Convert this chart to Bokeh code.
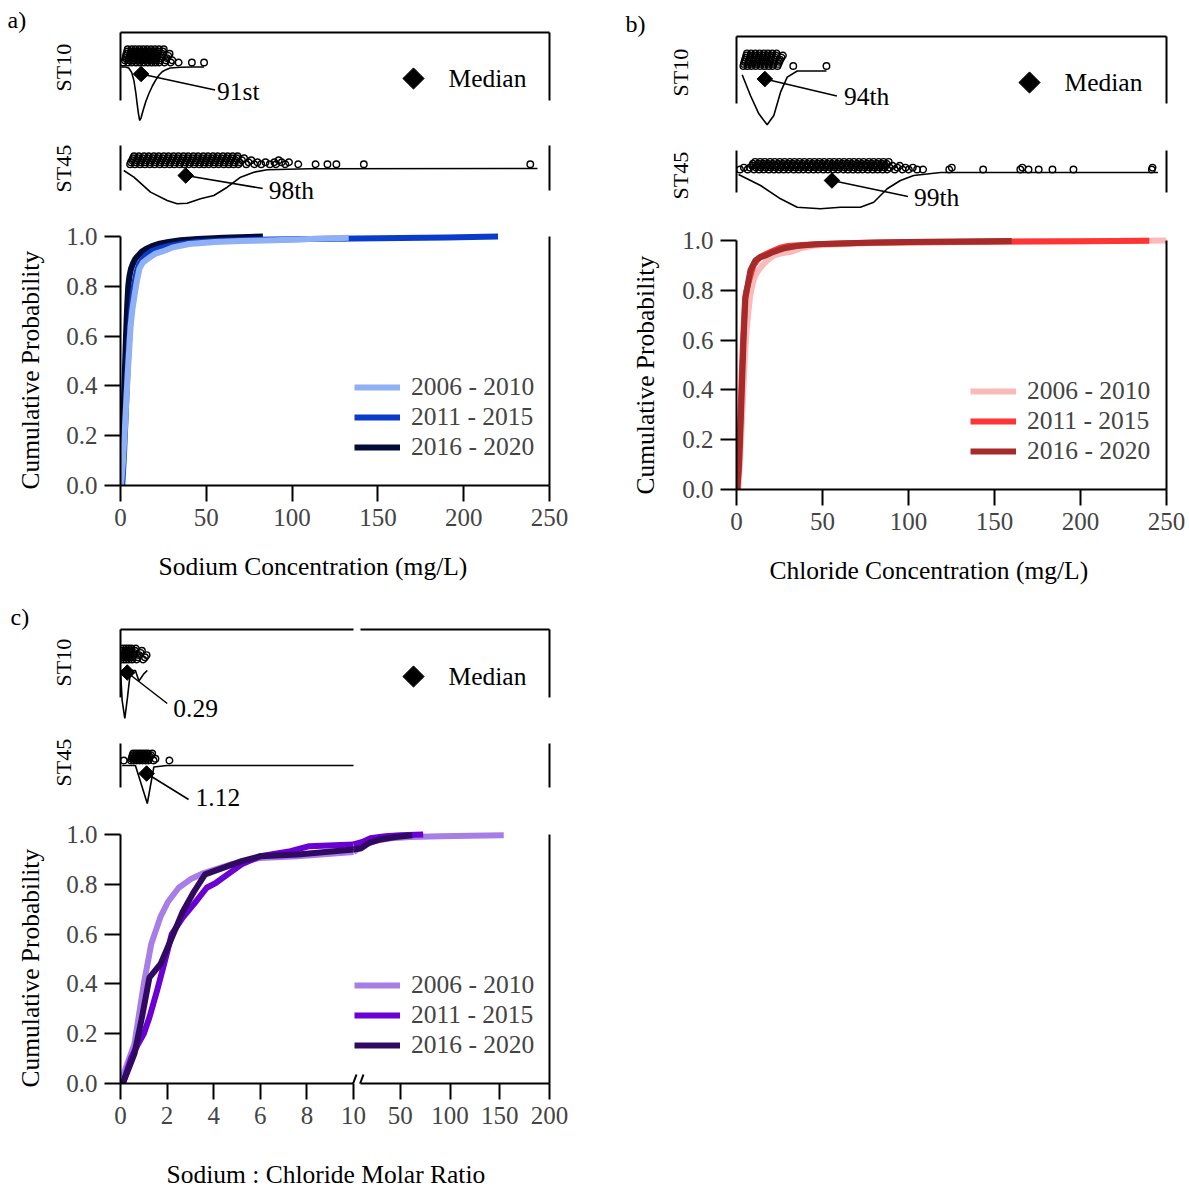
import numpy as np
from bokeh.plotting import figure
from bokeh.models import (Range1d, LinearAxis, FixedTicker, Label, Legend, LegendItem,
                          PrintfTickFormatter, Arrow, Title)
from bokeh.layouts import column, row
from bokeh.embed import file_html
from bokeh.resources import INLINE

FONT = "Liberation Serif"

# ---------------------------------------------------------------- data
periods = ["2006 - 2010", "2011 - 2015", "2016 - 2020"]

conc_ticks = [0, 50, 100, 150, 200, 250]
prob_ticks = [0.0, 0.2, 0.4, 0.6, 0.8, 1.0]
ratio_ticks = [0, 2, 4, 6, 8, 10, 50, 100, 150, 200]

na_colors = ["#8fb0f5", "#0a3ccc", "#020b36"]
cl_colors = ["#fbbaba", "#ff3535", "#a52a2a"]
ratio_colors = ["#a77de6", "#6a00d4", "#300a60"]

# cumulative distributions (value, cumulative probability)
na_2006_x = [0.3, 1.5, 2.5, 3.6, 4.5, 5.9, 7.0, 8.1, 9.5, 11.0, 13.0, 16.8, 20.0, 24.5, 30.0, 40.0, 55.0, 70.0, 90.0, 110.0, 133.0]
na_2006_p = [0.0, 0.1, 0.22, 0.37, 0.48, 0.64, 0.71, 0.76, 0.82, 0.87, 0.895, 0.915, 0.93, 0.94, 0.955, 0.97, 0.978, 0.982, 0.985, 0.99, 0.995]
na_2011_x = [1.0, 2.0, 3.0, 4.0, 5.0, 6.0, 7.0, 8.0, 9.5, 11.0, 13.0, 15.0, 18.0, 22.0, 27.0, 35.0, 45.0, 60.0, 80.0, 110.0, 150.0, 190.0, 220.0]
na_2011_p = [0.0, 0.12, 0.28, 0.45, 0.58, 0.68, 0.76, 0.81, 0.86, 0.89, 0.91, 0.925, 0.94, 0.95, 0.96, 0.97, 0.978, 0.983, 0.987, 0.99, 0.993, 0.996, 1.0]
na_2016_x = [0.2, 1.0, 1.8, 2.5, 3.2, 3.9, 4.5, 5.2, 6.1, 7.2, 8.6, 10.5, 12.5, 14.8, 18.0, 22.0, 28.0, 35.0, 45.0, 60.0, 83.0]
na_2016_p = [0.0, 0.12, 0.3, 0.45, 0.6, 0.72, 0.8, 0.84, 0.87, 0.89, 0.91, 0.925, 0.94, 0.95, 0.96, 0.97, 0.978, 0.985, 0.99, 0.995, 1.0]

cl_2006_x = [1.0, 2.0, 3.0, 4.0, 5.0, 6.0, 7.0, 8.0, 9.5, 11.0, 12.8, 15.0, 18.0, 22.0, 27.0, 32.0, 38.0, 45.0, 60.0, 80.0, 120.0, 170.0, 220.0, 250.0]
cl_2006_p = [0.0, 0.1, 0.25, 0.4, 0.55, 0.65, 0.72, 0.78, 0.83, 0.86, 0.88, 0.9, 0.92, 0.94, 0.95, 0.955, 0.97, 0.98, 0.985, 0.99, 0.993, 0.996, 0.998, 1.0]
cl_2011_x = [0.5, 1.5, 2.3, 3.0, 3.8, 4.5, 5.0, 5.8, 7.0, 8.5, 10.0, 12.0, 14.0, 17.0, 20.0, 25.0, 30.0, 38.0, 50.0, 70.0, 100.0, 150.0, 200.0, 240.0]
cl_2011_p = [0.0, 0.12, 0.3, 0.45, 0.6, 0.7, 0.77, 0.8, 0.83, 0.87, 0.9, 0.92, 0.935, 0.945, 0.955, 0.97, 0.978, 0.982, 0.986, 0.99, 0.993, 0.995, 0.997, 0.999]
cl_2016_x = [0.5, 1.5, 2.5, 3.2, 4.0, 4.6, 5.2, 6.0, 7.0, 8.1, 9.5, 11.0, 13.0, 15.0, 16.9, 20.0, 24.0, 28.5, 35.0, 46.0, 60.0, 80.0, 110.0, 160.0]
cl_2016_p = [0.0, 0.1, 0.28, 0.42, 0.58, 0.68, 0.77, 0.8, 0.84, 0.88, 0.9, 0.92, 0.93, 0.935, 0.94, 0.95, 0.96, 0.97, 0.978, 0.985, 0.988, 0.992, 0.995, 0.998]

ratio_2006_x = [0.05, 0.13, 0.6, 1.0, 1.32, 1.72, 2.04, 2.5, 3.0, 3.6, 4.75, 6.0, 7.6, 10.0, 15.0, 25.0, 40.0, 60.0, 90.0, 120.0, 154.0]
ratio_2006_p = [0.0, 0.037, 0.16, 0.40, 0.56, 0.67, 0.73, 0.786, 0.82, 0.846, 0.88, 0.906, 0.913, 0.93, 0.96, 0.975, 0.985, 0.99, 0.993, 0.995, 0.997]
ratio_2011_x = [0.1, 0.45, 0.76, 1.0, 1.24, 1.56, 1.9, 2.2, 2.67, 3.15, 3.7, 4.1, 4.6, 5.2, 6.0, 7.3, 8.1, 10.0, 12.0, 20.0, 35.0, 50.0, 65.0, 73.0]
ratio_2011_p = [0.0, 0.1, 0.16, 0.2, 0.265, 0.37, 0.49, 0.6, 0.666, 0.72, 0.786, 0.806, 0.84, 0.88, 0.913, 0.933, 0.953, 0.96, 0.97, 0.985, 0.993, 0.997, 0.999, 1.0]
ratio_2016_x = [0.1, 0.6, 0.92, 1.24, 1.72, 2.2, 2.67, 3.15, 3.63, 4.4, 5.2, 6.0, 7.6, 10.0, 11.0, 18.0, 30.0, 45.0, 62.0]
ratio_2016_p = [0.0, 0.12, 0.265, 0.425, 0.48, 0.585, 0.69, 0.77, 0.84, 0.866, 0.893, 0.913, 0.92, 0.94, 0.945, 0.965, 0.98, 0.99, 0.997]

# station strips: individual samples, density outline (normalised), median, label
st10_na_pts = [1.6, 2.6, 2.9, 3.2, 3.5, 3.9, 4.2, 4.5, 4.8, 5.2, 5.5, 5.8, 6.1, 6.5, 6.8, 7.1, 7.4,
               7.8, 8.1, 8.4, 8.7, 9.1, 9.4, 9.7, 10.0, 10.4, 10.7, 11.0, 11.3, 11.7, 12.0, 12.3,
               12.6, 13.0, 13.3, 13.6, 13.9, 14.3, 14.6, 14.9, 15.2, 15.6, 15.9, 16.2, 16.5, 16.9,
               17.2, 17.5, 17.8, 18.2, 18.5, 18.8, 19.1, 19.5, 19.8, 20.1, 20.4, 20.8, 21.1, 21.4,
               21.7, 22.1, 22.4, 22.7, 23.0, 23.4, 23.8, 24.2, 24.7, 25.2, 25.8, 26.4, 27.1, 27.8,
               28.6, 29.4, 30.2, 33.9, 41.6, 48.7]
st10_na_kde_x = [0.4, 3.0, 4.8, 6.5, 7.8, 9.0, 9.7, 10.5, 11.2, 12.0, 13.2, 14.8, 16.5, 18.5, 20.4, 22.5, 24.3, 26.5, 29.0, 35.0, 42.0, 48.7]
st10_na_kde_d = [0.0, 0.0, 0.02, 0.1, 0.25, 0.5, 0.69, 0.88, 1.0, 0.95, 0.81, 0.64, 0.5, 0.36, 0.25, 0.15, 0.09, 0.05, 0.02, 0.005, 0.0, 0.0]
st10_na_median = 12.0
st10_na_label = "91st"

st45_na_pts = [5.6, 6.1, 6.8, 7.3, 7.9, 8.4, 9.1, 9.6, 10.2, 10.7, 11.4, 11.9, 12.5, 13.0, 13.7, 14.2,
               14.8, 15.3, 16.0, 16.5, 17.1, 17.6, 18.3, 18.8, 19.4, 19.9, 20.6, 21.1, 21.7, 22.2,
               22.9, 23.4, 24.0, 24.5, 25.2, 25.7, 26.3, 26.8, 27.5, 28.0, 28.6, 29.1, 29.8, 30.3,
               30.9, 31.4, 32.1, 32.6, 33.2, 33.7, 34.4, 34.9, 35.5, 36.0, 36.7, 37.2, 37.8, 38.3,
               39.0, 39.5, 40.1, 40.6, 41.3, 41.8, 42.4, 42.9, 43.6, 44.1, 44.7, 45.2, 45.9, 46.4,
               47.0, 47.5, 48.2, 48.7, 49.3, 49.8, 50.5, 51.0, 51.6, 52.1, 52.8, 53.3, 53.9, 54.4,
               55.1, 55.6, 56.2, 56.7, 57.4, 57.9, 58.5, 59.0, 59.7, 60.2, 60.8, 61.3, 62.0, 62.5,
               63.1, 63.6, 64.3, 64.8, 65.4, 65.9, 66.6, 67.1, 67.7, 68.2, 68.9, 69.5,
               70.8, 72.0, 73.3, 74.7, 76.2, 77.9, 79.8, 82.0, 84.5, 87.0,
               89.7, 90.7, 92.2, 94.0, 96.1, 98.2, 103.6, 113.7, 120.6, 125.8, 141.8, 238.8]
st45_na_kde_x = [1.9, 7.8, 17.5, 27.2, 33.0, 38.9, 46.6, 54.4, 62.2, 70.0, 77.7, 85.5, 110.0, 243.0]
st45_na_kde_d = [0.057, 0.246, 0.67, 0.906, 1.0, 0.983, 0.858, 0.765, 0.53, 0.246, 0.105, 0.037, 0.005, 0.0]
st45_na_median = 38.0
st45_na_label = "98th"

st10_cl_pts = [4.0, 4.3, 4.7, 5.0, 5.4, 5.7, 6.1, 6.4, 6.8, 7.1, 7.5, 7.8, 8.2, 8.5, 8.9, 9.2, 9.6,
               9.9, 10.3, 10.6, 11.0, 11.3, 11.7, 12.0, 12.4, 12.7, 13.1, 13.4, 13.8, 14.1, 14.5,
               14.8, 15.2, 15.5, 15.9, 16.2, 16.6, 16.9, 17.3, 17.6, 18.0, 18.3, 18.7, 19.0, 19.4,
               19.7, 20.1, 20.4, 20.8, 21.1, 21.5, 21.8, 22.2, 22.5, 22.9, 23.3, 23.8, 24.3, 24.9,
               25.5, 26.2, 27.0, 33.0, 52.3]
st10_cl_kde_x = [3.3, 8.1, 13.0, 17.8, 21.7, 25.6, 29.5, 35.3, 52.3]
st10_cl_kde_d = [0.07, 0.455, 0.796, 1.0, 0.827, 0.394, 0.115, 0.0, 0.0]
st10_cl_median = 16.5
st10_cl_label = "94th"

st45_cl_pts = [2.0, 4.3, 6.5, 7.8, 9.1, 9.6, 10.3, 10.8, 11.4, 11.9, 12.6, 13.1, 13.7, 14.2, 14.9,
               15.4, 16.0, 16.5, 17.2, 17.7, 18.3, 18.8, 19.5, 20.0, 20.6, 21.1, 21.8, 22.3, 22.9,
               23.4, 24.1, 24.6, 25.2, 25.7, 26.4, 26.9, 27.5, 28.0, 28.7, 29.2, 29.8, 30.3, 31.0,
               31.5, 32.1, 32.6, 33.3, 33.8, 34.4, 34.9, 35.6, 36.1, 36.7, 37.2, 37.9, 38.4, 39.0,
               39.5, 40.2, 40.7, 41.3, 41.8, 42.5, 43.0, 43.6, 44.1, 44.8, 45.3, 45.9, 46.4, 47.1,
               47.6, 48.2, 48.7, 49.4, 49.9, 50.5, 51.0, 51.7, 52.2, 52.8, 53.3, 54.0, 54.5, 55.1,
               55.6, 56.3, 56.8, 57.4, 57.9, 58.6, 59.1, 59.7, 60.2, 60.9, 61.4, 62.0, 62.5, 63.2,
               63.7, 64.3, 64.8, 65.5, 66.0, 66.6, 67.1, 67.8, 68.3, 68.9, 69.4, 70.1, 70.6, 71.2,
               71.7, 72.4, 72.9, 73.5, 74.0, 74.7, 75.2, 75.8, 76.3, 77.0, 77.5, 78.1, 78.6, 79.3,
               79.8, 80.4, 80.9, 81.6, 82.1, 82.7, 83.2, 83.9, 84.4, 85.0, 85.5, 86.2, 86.7, 87.3,
               87.8, 88.5, 89.0, 90.8, 92.0, 93.5, 95.0, 96.6, 98.3, 100.2, 102.5, 105.0, 108.5,
               123.7, 125.2, 143.4, 165.0, 166.2, 169.8, 175.7, 183.7, 195.9, 241.5, 241.9]
st45_cl_kde_x = [1.2, 14.0, 25.6, 35.3, 48.8, 60.5, 72.0, 79.8, 87.6, 95.3, 103.0, 118.6, 245.0]
st45_cl_kde_d = [0.055, 0.358, 0.725, 0.956, 1.0, 0.956, 0.956, 0.818, 0.449, 0.22, 0.083, 0.0, 0.0]
st45_cl_median = 55.5
st45_cl_label = "99th"

st10_ratio_pts = [0.01, 0.03, 0.05, 0.07, 0.09, 0.11, 0.13, 0.15, 0.17, 0.19, 0.21, 0.23, 0.25, 0.27,
                  0.29, 0.31, 0.33, 0.35, 0.37, 0.39, 0.41, 0.43, 0.45, 0.47, 0.50, 0.53, 0.56, 0.59,
                  0.62, 0.66, 0.70, 0.75, 0.80, 0.86, 0.92, 0.98, 1.05, 1.12]
st10_ratio_kde_x = [0.0, 0.07, 0.185, 0.3, 0.43, 0.64, 0.79, 1.0, 1.15]
st10_ratio_kde_d = [0.0, 0.62, 1.0, 0.56, 0.0, 0.0, 0.22, 0.07, 0.0]
st10_ratio_median = 0.29
st10_ratio_label = "0.29"

st45_ratio_pts = [0.14, 0.45, 0.48, 0.50, 0.52, 0.55, 0.57, 0.60, 0.62, 0.65, 0.67, 0.70, 0.72, 0.75,
                  0.77, 0.80, 0.82, 0.85, 0.87, 0.90, 0.92, 0.95, 0.97, 1.00, 1.02, 1.05, 1.07, 1.10,
                  1.12, 1.15, 1.17, 1.20, 1.23, 1.27, 1.31, 1.36, 1.42, 1.50, 2.10]
st45_ratio_kde_x = [0.07, 0.64, 1.15, 1.43, 2.0, 10.0]
st45_ratio_kde_d = [0.0, 0.0, 1.0, 0.04, 0.0, 0.0]
st45_ratio_median = 1.12
st45_ratio_label = "1.12"

# ---------------------------------------------------------------- helpers
LEFT_PX = 23.3          # px per ratio unit below the break
RIGHT_PX = 189.0 / 190  # px per ratio unit above the break
GAP_PX = 7.0
TICK_FS = "25px"
TEXT_FS = "25.5px"


def brk(v):
    v = np.asarray(v, dtype=float)
    return np.where(v <= 10, v, 10 + (GAP_PX + (v - 10) * RIGHT_PX) / LEFT_PX)


def ident(v):
    return np.asarray(v, dtype=float)


def swarm_rows(px_vals, n_rows, dmin):
    px_vals = np.asarray(px_vals, dtype=float)
    order = np.argsort(px_vals, kind="stable")
    last = [-1e9] * n_rows
    rows = [0] * len(px_vals)
    for i in order:
        x = px_vals[i]
        placed = None
        for r in range(n_rows):
            if x - last[r] >= dmin:
                placed = r
                break
        if placed is None:
            placed = int(np.argmin(last))
        rows[i] = placed
        last[placed] = x
    return np.asarray(rows)


def base_fig(W, H, L, R, T, B, xr, yr):
    p = figure(width=W, height=H, x_range=xr, y_range=yr, toolbar_location=None,
               output_backend="svg", x_axis_location=None, y_axis_location=None,
               min_border_left=L, min_border_right=R, min_border_top=T, min_border_bottom=B)
    p.outline_line_color = None
    p.grid.visible = False
    p.background_fill_color = "white"
    p.border_fill_color = "white"
    return p


def bare_axis(bounds, dash=None):
    ax = LinearAxis(bounds=bounds, ticker=FixedTicker(ticks=[]), axis_line_width=2,
                    axis_line_color="black", major_tick_line_color=None,
                    minor_tick_line_color=None, major_label_text_font_size="0px",
                    major_tick_out=0, major_tick_in=0, minor_tick_out=0, minor_tick_in=0,
                    major_label_standoff=0, axis_label_standoff=0)
    if dash:
        ax.axis_line_dash = dash
    return ax


def spacer_axis(size, at):
    # blank axis (one white, unlabeled tick) that only reserves room before a title
    return LinearAxis(ticker=FixedTicker(ticks=[at]), axis_line_color=None,
                      major_tick_line_color="white", major_tick_line_width=1,
                      minor_tick_line_color=None, major_label_text_font_size="0px",
                      major_label_overrides={at: ""}, major_tick_out=size, major_tick_in=0,
                      minor_tick_out=0, minor_tick_in=0, major_label_standoff=0,
                      axis_label_standoff=0)


def add_text(p, x, y, text, dx=0, dy=0, size=TEXT_FS, align="left", baseline="middle"):
    p.add_layout(Label(x=x, y=y, text=text, x_offset=dx, y_offset=dy, text_font=FONT,
                       text_font_size=size, text_align=align, text_baseline=baseline,
                       text_color="black"))


def side_title(p, side, text, offset, standoff=0, valign="middle", size=TEXT_FS):
    p.add_layout(Title(text=text, align="left", offset=offset, standoff=standoff,
                       vertical_align=valign, text_font=FONT, text_font_size=size,
                       text_font_style="normal", text_color="black"), side)


KEY_DX = 293  # px from frame left to the "Median" key


def make_strip(g, s, xend, xmap, ppu):
    p = base_fig(g[0], g[1], g[2], g[3], g[4], g[5], Range1d(0, xend), Range1d(s["ylo"], s["yhi"]))
    p.add_layout(bare_axis(s["bounds"]), "left")
    p.add_layout(spacer_axis(s["name_gap"], float(s["ylo"] + 0.5)), "left")
    side_title(p, "left", s["name"], s["name_off"], 0, "middle", size="22px")
    p.add_layout(bare_axis(s["bounds"]), "right")
    if s["top"]:
        p.add_layout(bare_axis((0, xend), s.get("dash")), "above")
    p.line(xmap(s["kx"]), -s["depth"] * np.asarray(s["kd"]), line_color="black", line_width=1.6)
    xs = xmap(s["pts"])
    rows = swarm_rows(xs * ppu, s["nrows"], 6.0)
    ys = s["row0"] + s["rstep"] * rows
    p.scatter(xs, ys, marker="circle", size=6.5, fill_color=None, line_color="black", line_width=1.4)
    xm = float(xmap([s["median"]])[0])
    my = s["med_y"]
    p.segment(x0=[xm], y0=[my], x1=[xm + s["lead"][0] / ppu], y1=[my - s["lead"][1]],
              line_color="black", line_width=1.5)
    p.scatter([xm], [my], marker="square", angle=np.pi / 4, size=11, fill_color="black",
              line_color="black")
    add_text(p, xm + s["pct_off"][0] / ppu, my - s["pct_off"][1], s["pct"])
    if s.get("key") is not None:
        kx = KEY_DX / ppu
        p.scatter([kx], [s["key"]], marker="square", angle=np.pi / 4, size=15,
                  fill_color="black", line_color="black")
        add_text(p, kx, s["key"], "Median", dx=35)
    if s.get("letter"):
        side_title(p, "above", s["letter"][0], s["letter"][1], 0, valign="bottom", size="24px")
    return p


def make_cdf(g, xend, xmap, series, colors, order, ticks, tick_labels, xtitle, xt_off, xt_gap,
             yt_off, yt_gap, broken=False):
    p = base_fig(g[0], g[1], g[2], g[3], g[4], g[5], Range1d(0, xend), Range1d(0, 1.02))
    rend = {}
    for k in order:
        xv, pv = series[k]
        xv = np.asarray(xv, dtype=float)
        pv = np.asarray(pv, dtype=float)
        if broken:
            lo = xv <= 10
            hi = xv >= 10
            r = p.line(xmap(xv[lo]), pv[lo], line_width=6, line_color=colors[k], line_join="round")
            p.line(xmap(xv[hi]), pv[hi], line_width=6, line_color=colors[k], line_join="round")
        else:
            r = p.line(xmap(xv), pv, line_width=6, line_color=colors[k], line_join="round")
        rend[k] = r
    tick_u = [float(t) for t in xmap(ticks)]
    xa = LinearAxis(ticker=FixedTicker(ticks=tick_u), bounds=(0, xend), major_tick_out=16,
                    major_tick_in=0, axis_line_width=2, major_tick_line_width=2,
                    minor_tick_line_color=None, major_label_text_font=FONT,
                    major_label_text_font_size=TICK_FS, major_label_standoff=7)
    if tick_labels is not None:
        xa.major_label_overrides = {u: lab for u, lab in zip(tick_u, tick_labels)}
    if broken:
        xa.axis_line_dash = "233 7 1000"
    p.add_layout(xa, "below")
    p.add_layout(spacer_axis(xt_gap, 0.0), "below")
    side_title(p, "below", xtitle, xt_off, 0, valign="middle")
    ya = LinearAxis(ticker=FixedTicker(ticks=prob_ticks), formatter=PrintfTickFormatter(format="%.1f"),
                    bounds=(0, 1), major_tick_out=16, major_tick_in=0, axis_line_width=2,
                    major_tick_line_width=2, minor_tick_line_color=None,
                    major_label_text_font=FONT, major_label_text_font_size=TICK_FS,
                    major_label_standoff=7)
    p.add_layout(ya, "left")
    p.add_layout(spacer_axis(yt_gap, 0.0), "left")
    side_title(p, "left", "Cumulative Probability", yt_off, 0, valign="middle")
    p.add_layout(bare_axis((0, 1)), "right")
    legend = Legend(items=[LegendItem(label=periods[k], renderers=[rend[k]]) for k in range(3)],
                    location=(234, 23), glyph_width=46, glyph_height=28, label_height=28,
                    label_standoff=11, spacing=0, padding=0, margin=0, border_line_color=None,
                    background_fill_alpha=0, label_text_font=FONT, label_text_font_size=TEXT_FS)
    p.add_layout(legend)
    if broken:
        for u in (10.0, 10.0 + GAP_PX / LEFT_PX):
            p.add_layout(Arrow(end=None, x_start=u - 3 / LEFT_PX, y_start=-7 / 249.0,
                               x_end=u + 3 / LEFT_PX, y_end=9 / 249.0, line_width=2,
                               line_color="black"))
    return p


# ---------------------------------------------------------------- panel a (sodium)
A_PPU = 429 / 250
a1 = make_strip((590, 135, 120, 41, 32, 10),
                dict(ylo=-58.5, yhi=34.5, bounds=(-33.5, 34.5), top=True, kx=st10_na_kde_x,
                     kd=st10_na_kde_d, depth=53.5, pts=st10_na_pts, nrows=7, row0=4.5, rstep=2.2,
                     median=st10_na_median, med_y=-7, lead=(74, 16), pct_off=(76, 17),
                     pct=st10_na_label, name="ST10", name_off=34, name_gap=44, key=-11.5,
                     letter=("a)", -113)),
                250, ident, A_PPU)
a2 = make_strip((590, 80, 120, 41, 5, 5),
                dict(ylo=-42, yhi=28, bounds=(-22, 23), top=False, kx=st45_na_kde_x,
                     kd=st45_na_kde_d, depth=35.3, pts=st45_na_pts, nrows=5, row0=4.3, rstep=2.0,
                     median=st45_na_median, med_y=-7, lead=(77, 13), pct_off=(83, 15),
                     pct=st45_na_label, name="ST45", name_off=18, name_gap=44),
                250, ident, A_PPU)
a3 = make_cdf((590, 385, 120, 41, 16, 115), 250, ident,
              [(na_2006_x, na_2006_p), (na_2011_x, na_2011_p), (na_2016_x, na_2016_p)],
              na_colors, [2, 1, 0], conc_ticks, None, "Sodium Concentration (mg/L)", 38, 22,
              -4, 18)

# ---------------------------------------------------------------- panel b (chloride)
B_PPU = 430 / 250
b1 = make_strip((599, 135, 146, 23, 36, 6),
                dict(ylo=-58.5, yhi=34.5, bounds=(-32.8, 34.5), top=True, kx=st10_cl_kde_x,
                     kd=st10_cl_kde_d, depth=53.8, pts=st10_cl_pts, nrows=7, row0=5.0, rstep=2.1,
                     median=st10_cl_median, med_y=-8, lead=(72, 17), pct_off=(79, 17),
                     pct=st10_cl_label, name="ST10", name_off=33, name_gap=43, key=-11.5,
                     letter=("b)", -111)),
                250, ident, B_PPU)
b2 = make_strip((599, 80, 146, 23, 9, 1),
                dict(ylo=-42, yhi=28, bounds=(-19.7, 22), top=False, kx=st45_cl_kde_x,
                     kd=st45_cl_kde_d, depth=36.3, pts=st45_cl_pts, nrows=5, row0=3.0, rstep=1.9,
                     median=st45_cl_median, med_y=-8, lead=(76, 16), pct_off=(82, 17),
                     pct=st45_cl_label, name="ST45", name_off=15, name_gap=43),
                250, ident, B_PPU)
b3 = make_cdf((599, 385, 146, 23, 20, 111), 250, ident,
              [(cl_2006_x, cl_2006_p), (cl_2011_x, cl_2011_p), (cl_2016_x, cl_2016_p)],
              cl_colors, [0, 1, 2], conc_ticks, None, "Chloride Concentration (mg/L)", 33, 22,
              -5, 19)

# ---------------------------------------------------------------- panel c (ratio, broken axis)
C_END = float(brk([200])[0])
c1 = make_strip((590, 135, 120, 41, 29, 10),
                dict(ylo=-55, yhi=41, bounds=(-27, 41), top=True, dash="233 7 1000",
                     kx=st10_ratio_kde_x, kd=st10_ratio_kde_d, depth=48, pts=st10_ratio_pts,
                     nrows=6, row0=11, rstep=2.2, median=st10_ratio_median, med_y=-2,
                     lead=(40, 31), pct_off=(46, 36), pct=st10_ratio_label, name="ST10",
                     name_off=39, name_gap=44, key=-6, letter=("c)", -110)),
                C_END, brk, LEFT_PX)
c2 = make_strip((590, 80, 120, 41, 5, 5),
                dict(ylo=-45, yhi=25, bounds=(-22, 22), top=False, kx=st45_ratio_kde_x,
                     kd=st45_ratio_kde_d, depth=38, pts=st45_ratio_pts, nrows=5, row0=5,
                     rstep=1.75, median=st45_ratio_median, med_y=-8, lead=(42, 26),
                     pct_off=(49, 24), pct=st45_ratio_label, name="ST45", name_off=24,
                     name_gap=44),
                C_END, brk, LEFT_PX)
c3 = make_cdf((590, 377, 120, 41, 14, 109), C_END, brk,
              [(ratio_2006_x, ratio_2006_p), (ratio_2011_x, ratio_2011_p),
               (ratio_2016_x, ratio_2016_p)],
              ratio_colors, [0, 1, 2], ratio_ticks, [str(t) for t in ratio_ticks],
              "Sodium : Chloride Molar Ratio", 46, 32, -4, 18, broken=True)

layout = column(row(column(a1, a2, a3), column(b1, b2, b3)), column(c1, c2, c3))

open("out.html", "w").write(file_html(layout, INLINE))
